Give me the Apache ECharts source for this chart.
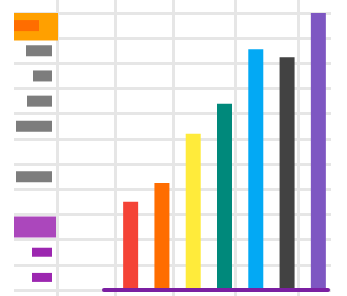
<!DOCTYPE html>
<html>
<head>
<meta charset="utf-8">
<script src="https://cdn.jsdelivr.net/npm/echarts@6/dist/echarts.min.js"></script>
<style>
html, body { margin: 0; padding: 0; background: #fff; }
#chart { width: 347px; height: 296px; }
</style>
</head>
<body>
<div id="chart"></div>
<script>
// main bars
const categories = ['red', 'orange', 'yellow', 'teal', 'blue', 'gray', 'purple'];
const values = [35, 42.5, 62, 74, 95.6, 92.4, 110];
const barColors = ['#f44336', '#ff6d00', '#ffeb3b', '#00897b', '#03a9f4', '#424242', '#7e57c2'];

// left list: one row per horizontal grid band
const rows = ['1', '2', '3', '4', '5', '6', '7', '8', '9', '10', '11'];
const grayLabels = [null, 26, 19, 25, 36, null, 36, null, null, null, null];
const purpleLabels = [null, null, null, null, null, null, null, null, null, 20, 20];
const orangeInner = [25, null, null, null, null, null, null, null, null, null, null];
const orangeBox = [44, null, null, null, null, null, null, null, null, null, null];
const purpleBox = [null, null, null, null, null, null, null, null, 42, null, null];

// vertical grid line ticks
const gridTicks = [57, 115, 173, 235, 298];

const lineColor = '#e6e6e6';

function rowAxis() {
  return { type: 'category', gridIndex: 4, data: rows, inverse: true, show: false };
}

let chart = echarts.init(document.getElementById('chart'));
chart.setOption({
  animation: false,
  grid: [
    { left: 0, right: 0, top: 0, bottom: 0 },
    { left: 14, right: 16, top: 13, bottom: 6 },
    { left: 104, right: 19, top: 13, bottom: 6 },
    { left: 115, right: 13, top: 13, bottom: 6 },
    { left: 14, right: 289, top: 13, bottom: 6 }
  ],
  xAxis: [
    {
      type: 'value', gridIndex: 0, min: 0, max: 347,
      axisLine: { show: false }, axisLabel: { show: false },
      axisTick: { show: false, customValues: gridTicks },
      splitLine: { show: true, lineStyle: { color: lineColor, width: 3 } }
    },
    { type: 'value', gridIndex: 1, show: false },
    {
      type: 'value', gridIndex: 2, min: 0, max: 1, z: 5,
      axisLine: { show: true, lineStyle: { color: '#7b1fa2', width: 4 } },
      axisTick: { show: false }, axisLabel: { show: false }, splitLine: { show: false }
    },
    { type: 'category', gridIndex: 3, data: categories, show: false },
    { type: 'value', gridIndex: 4, min: 0, max: 44, show: false },
    { type: 'value', gridIndex: 4, min: -6, max: 38, inverse: true, show: false }
  ],
  yAxis: [
    { type: 'value', gridIndex: 0, show: false },
    {
      type: 'value', gridIndex: 1, min: 0, max: 11, interval: 1,
      axisLine: { show: false }, axisTick: { show: false }, axisLabel: { show: false },
      splitLine: { show: true, lineStyle: { color: lineColor, width: 3 } }
    },
    { type: 'value', gridIndex: 2, min: 0, max: 1, show: false },
    { type: 'value', gridIndex: 3, min: 0, max: 110, show: false },
    rowAxis(),
    rowAxis(),
    rowAxis(),
    rowAxis()
  ],
  series: [
    {
      type: 'bar', xAxisIndex: 3, yAxisIndex: 3, barWidth: 15,
      data: values.map((v, i) => ({ value: v, itemStyle: { color: barColors[i] } }))
    },
    // highlight boxes
    {
      type: 'bar', xAxisIndex: 4, yAxisIndex: 6, barWidth: 30, z: 2,
      itemStyle: { color: '#ffa000' }, data: orangeBox
    },
    {
      type: 'bar', xAxisIndex: 4, yAxisIndex: 7, barWidth: 21, z: 2,
      itemStyle: { color: '#ab47bc' }, data: purpleBox
    },
    // label placeholders
    {
      type: 'bar', xAxisIndex: 4, yAxisIndex: 4, barWidth: 11, barGap: '-100%', z: 3,
      itemStyle: { color: '#ff6d00' }, data: orangeInner
    },
    {
      type: 'bar', xAxisIndex: 5, yAxisIndex: 4, barWidth: 11, barGap: '-100%', z: 3,
      itemStyle: { color: '#7d7d7d' }, data: grayLabels
    },
    {
      type: 'bar', xAxisIndex: 5, yAxisIndex: 5, barWidth: 9, z: 3,
      itemStyle: { color: '#9c27b0' }, data: purpleLabels
    }
  ]
});
</script>
</body>
</html>
